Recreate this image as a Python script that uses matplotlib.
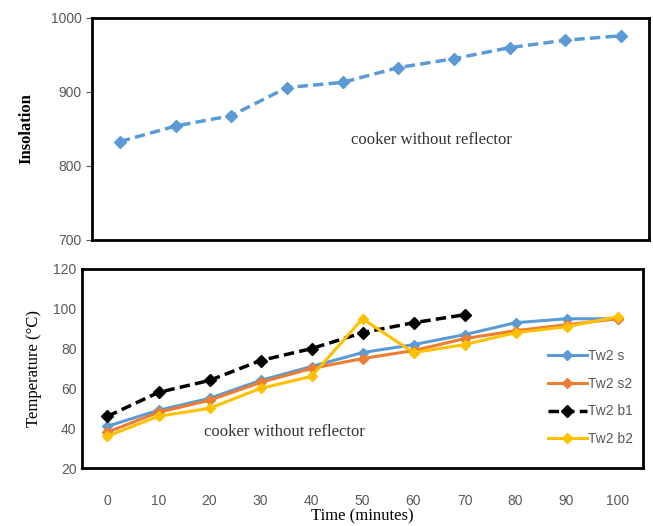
import matplotlib.pyplot as plt
import numpy as np

# top panel: insolation
ins_x = np.arange(10)
insolation = [833, 854, 868, 906, 913, 933, 945, 960, 970, 976]

# bottom panel: water temperature
time_labels = ['0', '10', '20', '30', '40', '50', '60', '70', '80', '90', '100']
tw2_s = [41, 49, 55, 64, 71, 78, 82, 87, 93, 95, 95]
tw2_s2 = [38, 48, 54, 63, 70, 75, 79, 85, 89, 92, 95]
tw2_b1 = [46, 58, 64, 74, 80, 88, 93, 97]
tw2_b2 = [36, 46, 50, 60, 66, 95, 78, 82, 88, 91, 96]

serif = 'Liberation Serif'
sans = 'Liberation Sans'
gray = '#595959'

fig = plt.figure(figsize=(6.53, 5.26), dpi=100)

# --- top ---
ax1 = fig.add_axes([92/653, 1-240/526, 557/653, 222/526])
ax1.plot(ins_x, insolation, '--', color='#5B9BD5', lw=2.5, marker='D', ms=6, dashes=(3, 1.5))
ax1.set_xlim(-0.5, 9.5)
ax1.set_ylim(700, 1000)
ax1.set_yticks([700, 800, 900, 1000])
ax1.set_xticks([])
ax1.tick_params(axis='y', labelsize=10, labelcolor=gray, length=4, color=gray)
for lab in ax1.get_yticklabels():
    lab.set_family(sans)
ax1.set_ylabel('Insolation', family=serif, fontweight='bold', fontsize=12, labelpad=12)
ax1.text(0.61, 0.45, 'cooker without reflector', transform=ax1.transAxes,
         family=serif, fontsize=12, ha='center', va='center', color='#333333')
for s in ax1.spines.values():
    s.set_linewidth(2)

# --- bottom ---
ax2 = fig.add_axes([82/653, 1-468/526, 561/653, 199/526])
xb = np.arange(len(time_labels))
ax2.plot(xb, tw2_s, '-', color='#5B9BD5', lw=2.2, marker='D', ms=5, label='Tw2 s')
ax2.plot(xb, tw2_s2, '-', color='#ED7D31', lw=2.2, marker='D', ms=5, label='Tw2 s2')
ax2.plot(xb[:len(tw2_b1)], tw2_b1, '--', color='black', lw=2.5, marker='D', ms=6,
         dashes=(3, 1.5), label='Tw2 b1')
ax2.plot(xb, tw2_b2, '-', color='#FFC000', lw=2.2, marker='D', ms=5, label='Tw2 b2')
ax2.set_xlim(-0.5, 10.5)
ax2.set_ylim(20, 120)
ax2.set_yticks([20, 40, 60, 80, 100, 120])
ax2.set_xticks(xb)
ax2.set_xticklabels(time_labels)
ax2.tick_params(axis='both', labelsize=10, labelcolor=gray, length=0, pad=19)
ax2.tick_params(axis='y', pad=4)
for lab in ax2.get_xticklabels() + ax2.get_yticklabels():
    lab.set_family(sans)
ax2.set_ylabel('Temperature (°C)', family=serif, fontsize=12, labelpad=8)
ax2.set_xlabel('Time (minutes)', family=serif, fontsize=12, labelpad=0)
ax2.text(0.36, 0.18, 'cooker without reflector', transform=ax2.transAxes,
         family=serif, fontsize=12, ha='center', va='center', color='#333333')
leg = ax2.legend(loc='lower right', bbox_to_anchor=(1.0, 0.06), frameon=False,
                 fontsize=10, handlelength=2.8, labelspacing=1.0,
                 handletextpad=0.1, borderaxespad=0.3)
for t in leg.get_texts():
    t.set_color(gray)
    t.set_family(sans)
for s in ax2.spines.values():
    s.set_linewidth(2)

fig.savefig('out.png', dpi=100)
